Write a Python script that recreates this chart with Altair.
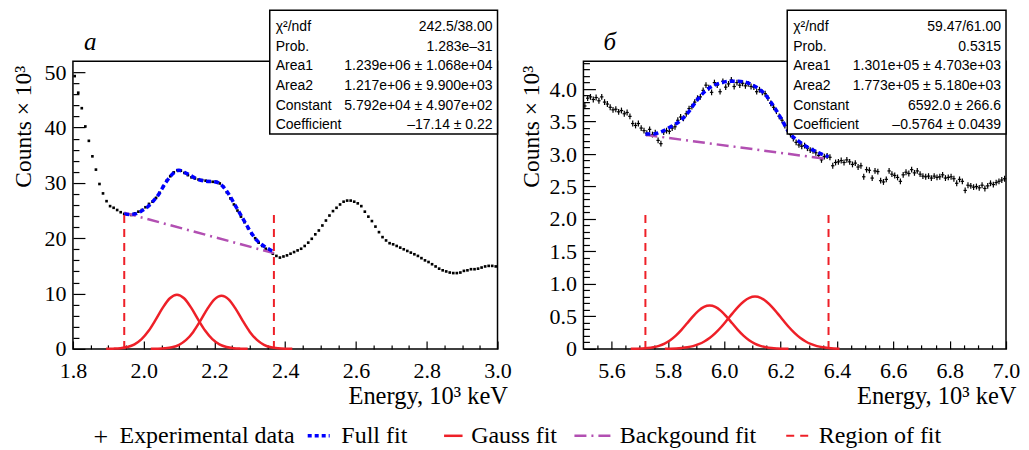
import altair as alt
import pandas as pd

SERIF = "Liberation Serif"
SANS = "Liberation Sans"

# ---------------- panel а ----------------
a_start, a_bin = 1.805, 0.01
a_counts = [49.3, 46.3, 43.5, 40.2, 37.6, 34.8, 32.4, 29.8, 28.1, 26.7,
            25.8, 25.5, 25.1, 24.7, 24.4, 24.3, 24.2, 24.5, 24.8, 25.1,
            25.6, 26.2, 26.6, 27.3, 28.2, 29.4, 30.4, 31.2, 31.9, 32.3,
            32.2, 31.8, 31.4, 31.0, 30.8, 30.6, 30.5, 30.4, 30.3, 30.2,
            30.2, 29.9, 29.3, 28.3, 27.2, 26.1, 25.0, 23.9, 22.9, 21.8,
            20.8, 20.0, 19.2, 18.6, 18.1, 17.7, 17.2, 16.8, 16.5, 16.7,
            16.9, 17.2, 17.5, 17.8, 18.1, 18.6, 19.2, 19.9, 20.7, 21.4,
            22.3, 23.2, 24.1, 24.9, 25.5, 26.1, 26.6, 26.8, 26.8, 26.6,
            26.3, 25.8, 24.8, 23.9, 23.1, 22.1, 21.1, 20.2, 19.6, 19.1,
            18.9, 18.6, 18.3, 18.0, 17.7, 17.4, 17.1, 16.8, 16.4, 16.0,
            15.7, 15.3, 14.9, 14.5, 14.2, 14.0, 13.8, 13.7, 13.7, 13.8,
            14.1, 14.2, 14.4, 14.4, 14.5, 14.7, 14.9, 15.0, 15.0, 14.9]
a_fit_E = [1.945, 1.96, 1.977, 1.996, 2.01, 2.024, 2.043, 2.055, 2.066, 2.085, 2.10, 2.115,
           2.128, 2.151, 2.175, 2.20, 2.212, 2.222, 2.24, 2.259, 2.278, 2.297, 2.32, 2.344,
           2.363, 2.368]
a_fit_C = [24.4, 24.3, 24.4, 25.0, 25.6, 26.5, 28.0, 29.3, 30.4, 31.8, 32.3, 31.9,
           31.5, 30.7, 30.3, 30.2, 30.0, 29.5, 28.0, 25.9, 23.8, 21.7, 19.6, 18.4,
           17.7, 17.5]
a_bg_E = [1.945, 2.368]
a_bg_C = [24.6, 17.3]
a_g1_E = [1.894, 1.914, 1.934, 1.954, 1.974, 1.994, 2.014, 2.034, 2.054, 2.074, 2.094,
          2.114, 2.134, 2.154, 2.174, 2.194, 2.214, 2.234, 2.254, 2.274, 2.294]
a_g1_C = [0.01, 0.04, 0.12, 0.34, 0.83, 1.76, 3.27, 5.29, 7.45, 9.15, 9.8,
          9.15, 7.45, 5.29, 3.27, 1.76, 0.83, 0.34, 0.12, 0.04, 0.01]
a_g2_E = [2.02, 2.04, 2.06, 2.08, 2.10, 2.12, 2.14, 2.16, 2.18, 2.20, 2.22,
          2.24, 2.26, 2.28, 2.30, 2.32, 2.34, 2.36, 2.38, 2.40, 2.42]
a_g2_C = [0.01, 0.03, 0.10, 0.29, 0.74, 1.62, 3.07, 5.06, 7.22, 8.94, 9.6,
          8.94, 7.22, 5.06, 3.07, 1.62, 0.74, 0.29, 0.10, 0.03, 0.01]
a_region = [1.945, 2.368]
a_region_top = 25.2
a_stat_names = ["χ²/ndf", "Prob.", "Area1", "Area2", "Constant", "Coefficient"]
a_stat_vals = ["242.5/38.00", "1.283e–31", "1.239e+06 ± 1.068e+04",
               "1.217e+06 ± 9.900e+03", "5.792e+04 ± 4.907e+02", "–17.14 ± 0.22"]

# ---------------- panel б ----------------
b_start, b_bin = 5.505, 0.01
b_counts = [3.74, 3.86, 3.88, 3.84, 3.87, 3.82, 3.88, 3.80, 3.77, 3.72,
            3.68, 3.69, 3.65, 3.67, 3.62, 3.64, 3.58, 3.47, 3.44, 3.47,
            3.40, 3.36, 3.32, 3.38, 3.30, 3.33, 3.21, 3.16, 3.34, 3.36,
            3.35, 3.40, 3.42, 3.52, 3.57, 3.55, 3.62, 3.70, 3.73, 3.80,
            3.86, 3.88, 3.98, 4.06, 4.02, 3.95, 4.10, 4.06, 3.96, 4.12,
            4.03, 4.08, 4.14, 4.04, 4.10, 4.06, 4.09, 4.05, 4.08, 4.04,
            4.03, 3.96, 3.99, 3.95, 3.93, 3.86, 3.78, 3.72, 3.66, 3.58,
            3.52, 3.44, 3.36, 3.30, 3.24, 3.18, 3.14, 3.12, 3.13, 3.09,
            3.06, 3.05, 3.02, 2.98, 2.91, 2.96, 2.97, 2.95, 2.82, 2.87,
            2.88, 2.90, 2.87, 2.91, 2.88, 2.84, 2.86, 2.80, 2.82, 2.65,
            2.76, 2.75, 2.63, 2.74, 2.73, 2.59, 2.57, 2.61, 2.74, 2.69,
            2.67, 2.64, 2.58, 2.68, 2.72, 2.70, 2.76, 2.71, 2.74, 2.69,
            2.66, 2.65, 2.66, 2.63, 2.66, 2.64, 2.65, 2.68, 2.63, 2.64,
            2.65, 2.62, 2.55, 2.61, 2.58, 2.44, 2.52, 2.51, 2.49, 2.50,
            2.48, 2.52, 2.47, 2.51, 2.55, 2.53, 2.56, 2.58, 2.60, 2.62]
b_err = 0.045
b_fit_E = [5.72, 5.75, 5.78, 5.81, 5.84, 5.87, 5.90, 5.93, 5.96, 5.99, 6.02, 6.05,
           6.08, 6.11, 6.14, 6.17, 6.20, 6.23, 6.26, 6.29, 6.32, 6.35, 6.37]
b_fit_C = [3.31, 3.31, 3.35, 3.42, 3.50, 3.63, 3.81, 3.96, 4.05, 4.10, 4.12, 4.12,
           4.10, 4.04, 3.94, 3.77, 3.56, 3.33, 3.21, 3.12, 3.05, 2.99, 2.96]
b_bg_E = [5.72, 6.37]
b_bg_C = [3.295, 2.92]
b_g1_E = [5.668, 5.688, 5.708, 5.728, 5.748, 5.768, 5.788, 5.808, 5.828, 5.848, 5.868,
          5.888, 5.908, 5.928, 5.948, 5.968, 5.988, 6.008, 6.028, 6.048, 6.068, 6.088,
          6.108, 6.128, 6.148, 6.168, 6.188, 6.208, 6.228]
b_g1_C = [0.001, 0.003, 0.006, 0.012, 0.025, 0.047, 0.081, 0.133, 0.204, 0.293, 0.394,
          0.496, 0.585, 0.646, 0.667, 0.646, 0.585, 0.496, 0.394, 0.293, 0.204, 0.133,
          0.081, 0.047, 0.025, 0.012, 0.006, 0.003, 0.001]
b_g2_E = [5.789, 5.809, 5.829, 5.849, 5.869, 5.889, 5.909, 5.929, 5.949, 5.969, 5.989,
          6.009, 6.029, 6.049, 6.069, 6.089, 6.109, 6.129, 6.149, 6.169, 6.189, 6.209,
          6.229, 6.249, 6.269, 6.289, 6.309, 6.329, 6.349, 6.369, 6.389, 6.409]
b_g2_C = [0.002, 0.0035, 0.007, 0.014, 0.025, 0.043, 0.072, 0.114, 0.171, 0.246, 0.337,
          0.440, 0.547, 0.648, 0.731, 0.786, 0.805, 0.786, 0.731, 0.648, 0.547, 0.440,
          0.337, 0.246, 0.171, 0.114, 0.072, 0.043, 0.025, 0.014, 0.007, 0.0035]
b_region = [5.72, 6.37]
b_region_top = 2.15
b_stat_names = ["χ²/ndf", "Prob.", "Area1", "Area2", "Constant", "Coefficient"]
b_stat_vals = ["59.47/61.00", "0.5315", "1.301e+05 ± 4.703e+03",
               "1.773e+05 ± 5.180e+03", "6592.0 ± 266.6", "–0.5764 ± 0.0439"]

# ---------------- axes ticks ----------------
a_xmaj = [1.8, 2.0, 2.2, 2.4, 2.6, 2.8, 3.0]
a_xmin = [1.85, 1.9, 1.95, 2.05, 2.1, 2.15, 2.25, 2.3, 2.35, 2.45, 2.5, 2.55,
          2.65, 2.7, 2.75, 2.85, 2.9, 2.95]
a_ymaj = [0, 10, 20, 30, 40, 50]
a_ymin = [v for v in range(2, 52, 2) if v % 10 != 0]
b_xmaj = [5.6, 5.8, 6.0, 6.2, 6.4, 6.6, 6.8, 7.0]
b_xmin = [5.55, 5.65, 5.7, 5.75, 5.85, 5.9, 5.95, 6.05, 6.1, 6.15, 6.25, 6.3, 6.35,
          6.45, 6.5, 6.55, 6.65, 6.7, 6.75, 6.85, 6.9, 6.95]
b_ymaj = [0, 0.5, 1.0, 1.5, 2.0, 2.5, 3.0, 3.5, 4.0]
b_ymin = [round(i / 10, 1) for i in range(1, 45) if i % 5 != 0]

legend_labels = ["Experimental data", "Full fit", "Gauss fit", "Backgound fit", "Region of fit"]

RED = "#ee2028"
BLUE = "#0000ff"
PURPLE = "#b24fb2"
H = 288


def one():
    return pd.DataFrame({"k": [0]})


def txt(text, x, y, size, font=SERIF, align="left", baseline="alphabetic",
        style="normal", lh=None):
    kw = dict(text=text, font=font, fontSize=size, align=align, baseline=baseline,
              fontStyle=style, color="black")
    if lh is not None:
        kw["lineHeight"] = lh
    return alt.Chart(one()).mark_text(**kw).encode(x=alt.value(x), y=alt.value(y))


def seg(x1, x2, y, color, width, dash=None):
    kw = dict(color=color, strokeWidth=width)
    if dash is not None:
        kw["strokeDash"] = dash
    return alt.Chart(one()).mark_rule(**kw).encode(
        x=alt.value(x1), x2=alt.value(x2), y=alt.value(y))


def panel(W, xdom, ydom, data_df, errbars, fit_E, fit_C, bg_E, bg_C, g1E, g1C, g2E, g2C,
          region, region_top, xmaj, xmin, ymaj, ymin, ylabel_expr, ytitle_x,
          names, vals, box_w, letter, letter_x):
    xs = alt.Scale(domain=xdom, nice=False, zero=False)
    ys = alt.Scale(domain=ydom, nice=False, zero=False)

    ax_lab = alt.Axis(orient="bottom", values=xmaj, format=".1f", ticks=False, domain=False,
                      grid=False, labelFont=SERIF, labelFontSize=22, labelColor="black",
                      labelPadding=12, labelFlush=False, labelOverlap=False,
                      title="Energy, 10³ keV", titleFont=SERIF, titleFontSize=24.5,
                      titleFontWeight="normal", titleColor="black", titleAlign="right",
                      titleAnchor="end", titleBaseline="alphabetic", titleX=W + 10, titleY=55)
    ay_lab = alt.Axis(orient="left", values=ymaj, labelExpr=ylabel_expr, ticks=False,
                      domain=False, grid=False, labelFont=SERIF, labelFontSize=22,
                      labelColor="black", labelPadding=7, labelFlush=False,
                      labelOverlap=False, title="Counts × 10³", titleFont=SERIF,
                      titleFontSize=23.5, titleFontWeight="normal", titleColor="black",
                      titleAngle=270, titleAlign="right", titleBaseline="alphabetic",
                      titleX=ytitle_x, titleY=4)

    def tick_axes(xv, yv, xl, yl):
        ax = alt.Axis(orient="bottom", values=xv, labels=False, domain=False, grid=False,
                      ticks=True, tickSize=xl, tickColor="black", tickWidth=1.2,
                      offset=-xl, title=None)
        ay = alt.Axis(orient="left", values=yv, labels=False, domain=False, grid=False,
                      ticks=True, tickSize=yl, tickColor="black", tickWidth=1.2,
                      offset=-yl, title=None)
        return ax, ay

    layers = []
    if errbars:
        df = data_df.assign(lo=data_df["C"] - b_err, hi=data_df["C"] + b_err,
                            xl=data_df["E"] - 0.006, xh=data_df["E"] + 0.006)
        layers.append(alt.Chart(df).mark_rule(color="black", strokeWidth=1.2).encode(
            x=alt.X("E:Q", scale=xs, axis=ax_lab),
            y=alt.Y("lo:Q", scale=ys, axis=ay_lab), y2="hi:Q"))
        layers.append(alt.Chart(df).mark_rule(color="black", strokeWidth=1.2).encode(
            x=alt.X("xl:Q", scale=xs, axis=None), x2="xh:Q",
            y=alt.Y("C:Q", scale=ys, axis=None)))
    else:
        layers.append(alt.Chart(data_df).mark_square(size=7, color="black", opacity=1).encode(
            x=alt.X("E:Q", scale=xs, axis=ax_lab),
            y=alt.Y("C:Q", scale=ys, axis=ay_lab)))

    for xv, yv, xl, yl in [(xmaj, ymaj, 8, 12), (xmin, ymin, 4, 6)]:
        axx, axy = tick_axes(xv, yv, xl, yl)
        layers.append(alt.Chart(data_df).mark_point(opacity=0).encode(
            x=alt.X("E:Q", scale=xs, axis=axx), y=alt.Y("C:Q", scale=ys, axis=axy)))

    bg = pd.DataFrame({"E": bg_E, "C": bg_C})
    layers.append(alt.Chart(bg).mark_line(color=PURPLE, strokeWidth=2.5,
                                          strokeDash=[12, 5, 2, 5]).encode(
        x=alt.X("E:Q", scale=xs, axis=None), y=alt.Y("C:Q", scale=ys, axis=None)))

    fit = pd.DataFrame({"E": fit_E, "C": fit_C})
    layers.append(alt.Chart(fit).mark_line(color=BLUE, strokeWidth=3.5, strokeDash=[5, 3],
                                           interpolate="monotone").encode(
        x=alt.X("E:Q", scale=xs, axis=None), y=alt.Y("C:Q", scale=ys, axis=None)))

    gs = pd.concat([pd.DataFrame({"E": g1E, "C": g1C, "g": 1}),
                    pd.DataFrame({"E": g2E, "C": g2C, "g": 2})])
    layers.append(alt.Chart(gs).mark_line(color=RED, strokeWidth=2.5,
                                          interpolate="monotone").encode(
        x=alt.X("E:Q", scale=xs, axis=None), y=alt.Y("C:Q", scale=ys, axis=None),
        detail="g:N"))

    reg = pd.DataFrame({"E": region, "lo": [0, 0], "hi": [region_top, region_top]})
    layers.append(alt.Chart(reg).mark_rule(color=RED, strokeWidth=2, strokeDash=[8, 6]).encode(
        x=alt.X("E:Q", scale=xs, axis=None), y=alt.Y("lo:Q", scale=ys, axis=None),
        y2="hi:Q"))

    # statistics box
    bx0 = W - box_w
    layers.append(alt.Chart(one()).mark_rect(fill="white", stroke="black", strokeWidth=1.5).encode(
        x=alt.value(bx0), x2=alt.value(W), y=alt.value(-51), y2=alt.value(73)))
    layers.append(txt(names, bx0 + 6, -30, 14, font=SANS, lh=19.6))
    layers.append(txt(vals, W - 5, -30, 14, font=SANS, align="right", lh=19.6))

    layers.append(txt(letter, letter_x, -11, 25, style="italic"))
    return layers


a_df = pd.DataFrame({"E": [round(a_start + a_bin * i, 3) for i in range(len(a_counts))],
                     "C": a_counts})
b_df = pd.DataFrame({"E": [round(b_start + b_bin * i, 3) for i in range(len(b_counts))],
                     "C": b_counts})

WA, WB = 425, 423

left_layers = panel(WA, [1.8, 3.0], [0, 52], a_df, False, a_fit_E, a_fit_C, a_bg_E, a_bg_C,
                    a_g1_E, a_g1_C, a_g2_E, a_g2_C, a_region, a_region_top,
                    a_xmaj, a_xmin, a_ymaj, a_ymin, "format(datum.value, 'd')", -42,
                    a_stat_names, a_stat_vals, 228, "а", 11)

# legend (drawn in the coordinate frame of the left panel)
LY = 375
left_layers += [
    txt("+", 28, LY + 1, 26, align="center", baseline="middle"),
    txt(legend_labels[0], 46.6, LY, 24, baseline="middle"),
    seg(235, 257, LY, BLUE, 3.5, [4, 3]),
    txt(legend_labels[1], 268.7, LY, 24, baseline="middle"),
    seg(371.5, 390, LY, RED, 2.5),
    txt(legend_labels[2], 398.6, LY, 24, baseline="middle"),
    seg(502, 543, LY, PURPLE, 2.5, [12, 5, 2, 5]),
    txt(legend_labels[3], 547.4, LY, 24, baseline="middle"),
    seg(714, 739, LY, RED, 2, [8, 6]),
    txt(legend_labels[4], 746.5, LY, 24, baseline="middle"),
]

right_layers = panel(WB, [5.5, 7.0], [0, 4.43], b_df, True, b_fit_E, b_fit_C, b_bg_E, b_bg_C,
                     b_g1_E, b_g1_C, b_g2_E, b_g2_C, b_region, b_region_top,
                     b_xmaj, b_xmin, b_ymaj, b_ymin,
                     "datum.value == 0 ? '0' : format(datum.value, '.1f')", -45,
                     b_stat_names, b_stat_vals, 219, "б", 20)

left = alt.layer(*left_layers).resolve_axis(x="independent", y="independent").properties(
    width=WA, height=H)
right = alt.layer(*right_layers).resolve_axis(x="independent", y="independent").properties(
    width=WB, height=H)

chart = alt.hconcat(left, right, spacing=86, bounds="flush").configure_view(
    stroke="black", strokeWidth=1.5).properties(
    padding={"left": 3, "top": 0, "right": 0, "bottom": 0}, background="white")

chart.save("out.html", embed_options={"renderer": "svg", "actions": False})
